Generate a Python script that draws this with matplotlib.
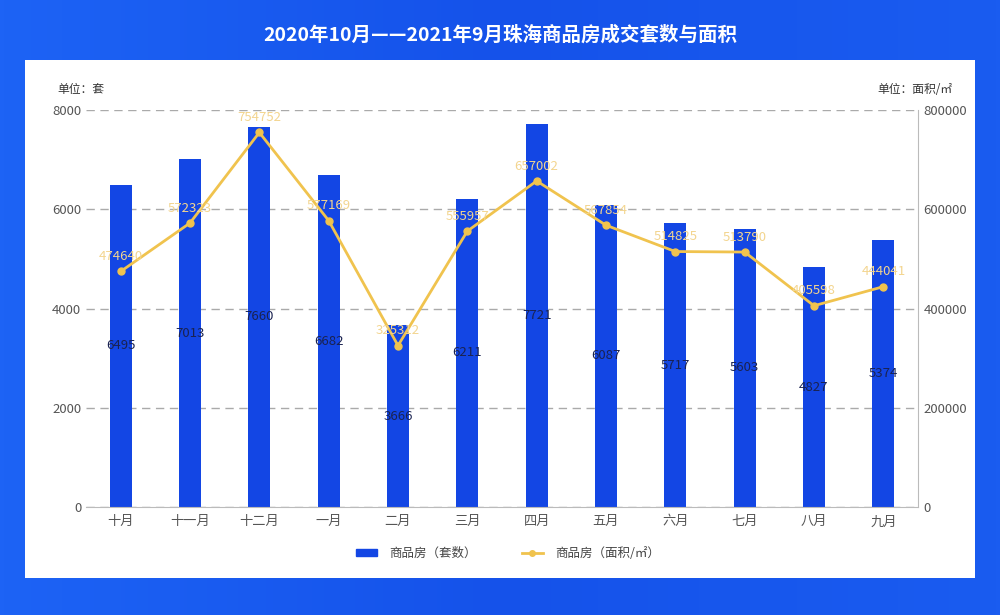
import numpy as np
import matplotlib
matplotlib.use("Agg")
import matplotlib.pyplot as plt
from matplotlib.patches import Rectangle
from matplotlib.lines import Line2D

plt.rcParams['font.family'] = ['Noto Sans CJK SC', 'DejaVu Sans']

# data
months = ['十月', '十一月', '十二月', '一月', '二月', '三月',
          '四月', '五月', '六月', '七月', '八月', '九月']
units = [6495, 7013, 7660, 6682, 3666, 6211, 7721, 6087, 5717, 5603, 4827, 5374]
area = [474640, 572323, 754752, 577169, 325312, 555957,
        657002, 567854, 514825, 513790, 405598, 444041]

bar_color = '#1346e4'
line_color = '#f0c34e'
label_line = '#f3d58f'
grey = '#555555'

fig = plt.figure(figsize=(10, 6.15), dpi=100)
fig.patch.set_facecolor('#1a5bf2')

# background gradient
grad = np.linspace(0, 1, 256).reshape(1, -1)
bg = fig.add_axes([0, 0, 1, 1], zorder=-2)
bg.imshow(grad, aspect='auto', cmap=matplotlib.colors.LinearSegmentedColormap.from_list(
    'bg', ['#1d63f5', '#1552ea', '#1a5cf0']), extent=[0, 1, 0, 1])
bg.axis('off')

# white panel
fig.patches.append(Rectangle((0.025, 0.0602), 0.95, 0.8423, transform=fig.transFigure,
                             facecolor='white', edgecolor='none', zorder=-1))

fig.text(0.5, 0.943, '2020年10月——2021年9月珠海商品房成交套数与面积',
         color='white', fontsize=14, fontweight='bold', ha='center', va='center')

ax = fig.add_axes([0.086, 0.1756, 0.832, 0.6455])
ax.set_facecolor('none')
x = np.arange(len(months))
ax.bar(x, units, width=0.32, color=bar_color, zorder=2)
ax.set_xlim(-0.5, len(months) - 0.5)
ax.set_ylim(0, 8000)
ax.set_yticks(range(0, 8001, 2000))
ax.set_xticks(x)
ax.set_xticklabels(months)
ax.yaxis.grid(True, linestyle=(0, (6, 4)), color='#aaaaaa', linewidth=1)
ax.set_axisbelow(True)
for s in ['top', 'left', 'right']:
    ax.spines[s].set_visible(False)
ax.spines['bottom'].set_color('#bbbbbb')
ax.tick_params(axis='both', length=0, colors=grey, labelsize=9.5)
ax.tick_params(axis='x', pad=6)
for xi, v in zip(x, units):
    ax.text(xi, v / 2, str(v), ha='center', va='center', fontsize=9.5,
            color='#1a2250', zorder=5)

ax2 = ax.twinx()
ax2.plot(x, area, color=line_color, linewidth=2, marker='o', markersize=5, zorder=3)
ax2.set_ylim(0, 800000)
ax2.set_yticks(range(0, 800001, 200000))
for s in ['top', 'left', 'bottom']:
    ax2.spines[s].set_visible(False)
ax2.spines['right'].set_color('#bbbbbb')
ax2.tick_params(axis='y', length=0, colors=grey, labelsize=9.5, pad=4)
for xi, v in zip(x, area):
    ax2.annotate(str(v), (xi, v), xytext=(0, 6), textcoords='offset points',
                 ha='center', va='bottom', fontsize=9.5, color=label_line, zorder=6)

fig.text(0.057, 0.855, '单位：套', fontsize=8.5, color='#333333', ha='left', va='center')
fig.text(0.953, 0.855, '单位：面积/㎡', fontsize=8.5, color='#333333', ha='right', va='center')

# legend
handles = [Rectangle((0, 0), 1, 1, color=bar_color),
           Line2D([0], [0], color=line_color, linewidth=2, marker='o', markersize=4)]
fig.legend(handles, ['商品房（套数）', '商品房（面积/㎡）'], loc='center',
           bbox_to_anchor=(0.508, 0.1), ncol=2, frameon=False, fontsize=9,
           labelcolor='#444444', handlelength=1.7, handleheight=0.5,
           columnspacing=3.6, handletextpad=1.0)

plt.savefig('out.png', dpi=100)
